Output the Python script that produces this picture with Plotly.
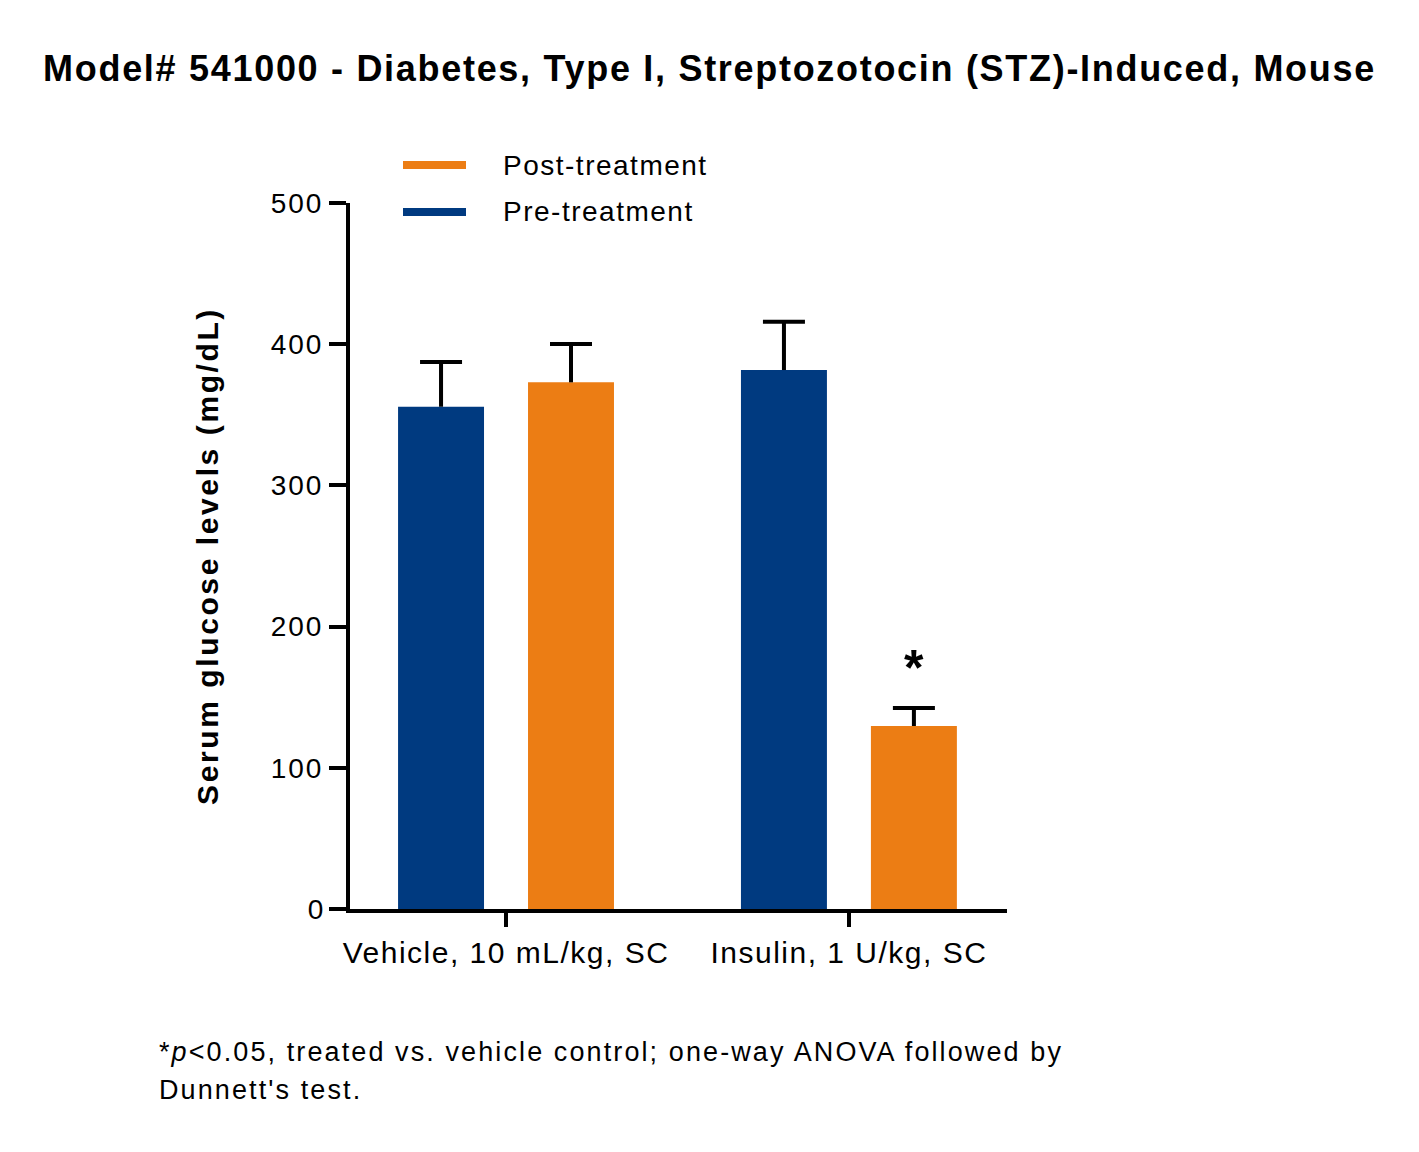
import plotly.graph_objects as go

# values (mg/dL)
groups = ["Vehicle, 10 mL/kg, SC", "Insulin, 1 U/kg, SC"]
pre_mean = [355.7, 381.7]
pre_err = [31.7, 34.2]
post_mean = [373.0, 129.6]
post_err = [27.1, 12.8]
y_ticks = [0, 100, 200, 300, 400, 500]

BLUE = "#003A80"
ORANGE = "#EC7D14"
FONT = "Liberation Sans, Arial, sans-serif"

SHIFT = 0.1895      # bar centre distance from category centre
BAR_W = 0.2507
STEM_W = 0.0117     # ~4 px

fig = go.Figure()
for name, col, means, errs, sign in [("Pre-treatment", BLUE, pre_mean, pre_err, -1),
                                     ("Post-treatment", ORANGE, post_mean, post_err, 1)]:
    fig.add_trace(go.Bar(
        x=groups, y=means, name=name, marker_color=col, marker_line_width=0,
        width=BAR_W, offset=sign * SHIFT - BAR_W / 2,
    ))
    # one-sided error bar: thin stem bar from the mean up, cap drawn on its top
    fig.add_trace(go.Bar(
        x=groups, y=errs, base=means, marker_color="black", marker_line_width=0,
        width=STEM_W, offset=sign * SHIFT - STEM_W / 2, showlegend=False,
        error_y=dict(type="data", array=[0, 0], color="black", thickness=4, width=21),
    ))

# significance mark over the insulin post-treatment bar
fig.add_annotation(x=1 + SHIFT, y=post_mean[1] + post_err[1], xref="x", yref="y",
                   text="<b>*</b>", showarrow=False, yanchor="bottom", yshift=10,
                   font=dict(size=50, color="black", family=FONT))

# legend drawn by hand (wide line swatches like the original)
legend_items = [("Post-treatment", ORANGE, 165), ("Pre-treatment", BLUE, 212)]
for label, col, ypx in legend_items:
    fig.add_shape(type="line", xref="paper", yref="paper",
                  x0=(403 - 350) / 657, x1=(466 - 350) / 657,
                  y0=(909 - ypx) / 706, y1=(909 - ypx) / 706,
                  line=dict(color=col, width=8))
    fig.add_annotation(xref="paper", yref="paper", x=(501 - 350) / 657,
                       y=(909 - ypx) / 706, text=label, showarrow=False,
                       xanchor="left", yanchor="middle", align="left",
                       font=dict(size=28, color="black", family=FONT))

footnote = ["*<i>p</i><0.05, treated vs. vehicle control; one-way ANOVA followed by",
            "Dunnett's test."]
for line, ypx in zip(footnote, [1052, 1090]):
    fig.add_annotation(
        xref="paper", yref="paper", x=(157 - 350) / 657, y=(909 - ypx) / 706,
        xanchor="left", yanchor="middle", align="left", showarrow=False,
        text=line, font=dict(size=27, color="black", family=FONT),
    )

fig.update_layout(
    width=1419, height=1152,
    margin=dict(l=342, r=420, t=195, b=251),
    paper_bgcolor="white", plot_bgcolor="white",
    barmode="overlay",
    showlegend=False,
    title=dict(text="<b>Model# 541000 - Diabetes, Type I, Streptozotocin (STZ)-Induced, Mouse</b>",
               x=0.5 - 8 / 1419, xanchor="center", y=1 - 60 / 1152, yanchor="middle",
               font=dict(size=36, color="black", family=FONT)),
    font=dict(family=FONT, color="black"),
)
fig.update_xaxes(
    range=[-0.455, 1.461], showline=True, linecolor="black", linewidth=4,
    ticks="outside", ticklen=14, tickwidth=4, tickcolor="black",
    tickfont=dict(size=30, family=FONT), showgrid=False, zeroline=False,
)
fig.update_yaxes(
    range=[0, 500], tickvals=y_ticks, showline=True, linecolor="black", linewidth=4,
    ticks="outside", ticklen=17, tickwidth=4, tickcolor="black",
    tickfont=dict(size=28, family=FONT), showgrid=False, zeroline=False,
    title=dict(text="<b>Serum glucose levels (mg/dL)</b>", standoff=50,
               font=dict(size=30, family=FONT)),
)

# the original text is set a little looser than Liberation Sans
spacing_js = """
var gd = document.getElementById('{plot_id}');
function sp(sel, v, test) {
  gd.querySelectorAll(sel).forEach(function (t) {
    var s = t.textContent;
    if (s.length > 1 && (!test || test(s))) { t.style.letterSpacing = v; }
  });
}
function isNote(s) { return s.indexOf('treated vs') >= 0 || s.indexOf('Dunnett') >= 0; }
sp('.gtitle', '1.7px');
sp('.xtick text', '1.5px');
sp('.ytick text', '2px');
sp('.ytitle', '2.6px');
sp('.annotation-text', '1.5px', function (s) { return !isNote(s); });
sp('.annotation-text', '2.1px', isNote);
"""

fig.write_html("out.html", post_script=spacing_js)
